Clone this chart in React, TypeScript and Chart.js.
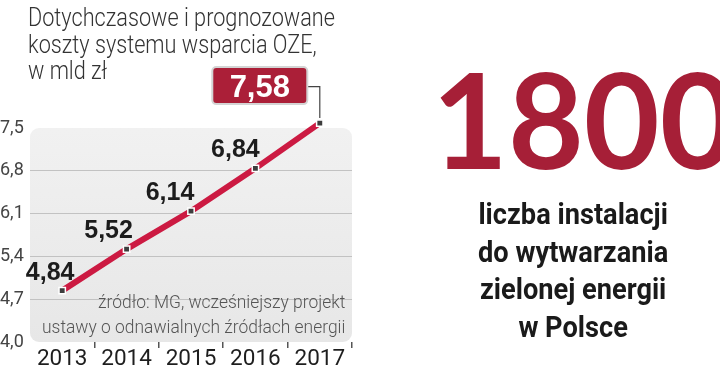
import { useEffect, useLayoutEffect, useRef, useState } from 'react';
import { Chart, registerables } from 'chart.js';

Chart.register(...registerables);

const years = ['2013', '2014', '2015', '2016', '2017'];
const costs = [4.84, 5.52, 6.14, 6.84, 7.58];
const yTicks = [4.0, 4.7, 5.4, 6.1, 6.8, 7.5];

const titleLines = ['Dotychczasowe i prognozowane', 'koszty systemu wsparcia OZE,', 'w mld zł'];
const sourceLines = ['źródło: MG, wcześniejszy projekt', 'ustawy o odnawialnych źródłach energii'];
const bigNumber = '1800';
const bigCaption = ['liczba instalacji', 'do wytwarzania', 'zielonej energii', 'w Polsce'];

const labelDx = [-12, -18, -21, -20];

const fmt = (v: number, d: number) => v.toFixed(d).replace('.', ',');

const bgPlugin = {
  id: 'plotBg',
  beforeDraw(chart: any) {
    const { ctx, chartArea } = chart;
    const { left, top, right, bottom } = chartArea;
    ctx.save();
    const g = ctx.createLinearGradient(0, top, 0, bottom);
    g.addColorStop(0, '#f1f1f1');
    g.addColorStop(1, '#e7e7e7');
    ctx.fillStyle = g;
    ctx.beginPath();
    ctx.roundRect(left, top, right - left, bottom - top, 9);
    ctx.fill();
    ctx.restore();
  },
};

const labelPlugin = {
  id: 'valueLabels',
  afterDatasetsDraw(chart: any) {
    const { ctx } = chart;
    const meta = chart.getDatasetMeta(0);
    const n = costs.length;
    ctx.save();
    ctx.font = 'bold 25px "Liberation Sans", Arial, sans-serif';
    ctx.fillStyle = '#1c1c1c';
    ctx.textAlign = 'center';
    ctx.textBaseline = 'alphabetic';
    for (let i = 0; i < n - 1; i++) {
      const p = meta.data[i];
      ctx.fillText(fmt(costs[i], 2), p.x + labelDx[i], p.y - 11);
    }
    const p = meta.data[n - 1];
    const w = 95;
    const h = 37;
    const cx = p.x - 60;
    const cy = p.y - 37.5;
    const bx = cx - w / 2;
    const by = cy - h / 2;
    ctx.strokeStyle = '#444';
    ctx.lineWidth = 1.2;
    ctx.beginPath();
    ctx.moveTo(bx + w, cy + 1);
    ctx.lineTo(p.x, cy + 1);
    ctx.lineTo(p.x, p.y - 5);
    ctx.stroke();
    ctx.beginPath();
    ctx.roundRect(bx, by, w, h, 4);
    ctx.fillStyle = '#ab1f38';
    ctx.fill();
    ctx.strokeStyle = '#d4d4d4';
    ctx.lineWidth = 2;
    ctx.stroke();
    ctx.fillStyle = '#ffffff';
    ctx.font = 'bold 31px "Liberation Sans", Arial, sans-serif';
    ctx.fillText(fmt(costs[n - 1], 2), cx, cy + 11);
    ctx.restore();
  },
};

function FitBlock(props: { outer: any; target: number; origin: string; align: string; children: any }) {
  const ref = useRef<HTMLDivElement | null>(null);
  const [s, setS] = useState(1);
  useLayoutEffect(() => {
    const measure = () => {
      const el = ref.current;
      if (el && el.offsetWidth) setS(props.target / el.offsetWidth);
    };
    measure();
    const fonts: any = (document as any).fonts;
    if (fonts && fonts.ready) fonts.ready.then(measure);
  }, []);
  return (
    <div style={{ position: 'absolute', textAlign: props.align as any, ...props.outer }}>
      <div
        ref={ref}
        style={{
          display: 'inline-block',
          whiteSpace: 'pre',
          textAlign: props.align as any,
          transform: `scaleX(${s})`,
          transformOrigin: props.origin,
        }}
      >
        {props.children}
      </div>
    </div>
  );
}

function CostChart() {
  const ref = useRef<HTMLCanvasElement | null>(null);
  useEffect(() => {
    if (!ref.current) return;
    const chart = new Chart(ref.current, {
      type: 'line',
      data: {
        labels: years,
        datasets: [
          {
            data: costs,
            borderColor: '#cc1a42',
            borderWidth: 6,
            pointStyle: 'rect',
            pointRadius: 4.5,
            pointBackgroundColor: '#3d3d3d',
            pointBorderColor: '#ffffff',
            pointBorderWidth: 1.5,
            tension: 0,
            clip: false,
          } as any,
        ],
      },
      options: {
        animation: false,
        responsive: false,
        maintainAspectRatio: false,
        devicePixelRatio: 1,
        layout: { padding: { left: 0, top: 128, right: 368, bottom: 0 } },
        plugins: { legend: { display: false }, tooltip: { enabled: false } },
        scales: {
          x: {
            type: 'category',
            offset: true,
            border: { display: false },
            grid: {
              offset: true,
              drawOnChartArea: false,
              drawTicks: true,
              tickLength: 6,
              lineWidth: 1.5,
              color: (c: any) => (c.index === 0 || c.index >= years.length ? 'rgba(0,0,0,0)' : '#555'),
            },
            ticks: {
              font: { family: 'Roboto, sans-serif', size: 22.5 },
              color: '#1e1e1e',
              padding: -2,
              maxRotation: 0,
            },
            afterFit: (s: any) => {
              s.height = 32;
            },
          } as any,
          y: {
            min: 4,
            max: 7.5,
            border: { display: false },
            afterBuildTicks: (s: any) => {
              s.ticks = yTicks.map((v) => ({ value: v }));
            },
            grid: {
              drawTicks: false,
              lineWidth: 1,
              color: (c: any) => (c.index === 0 || c.index === yTicks.length - 1 ? 'rgba(0,0,0,0)' : '#c2c2c2'),
            },
            ticks: {
              callback: (v: any) => fmt(Number(v), 1),
              font: { family: 'Roboto, sans-serif', size: 18 },
              color: '#444',
              crossAlign: 'far',
              padding: 0,
            },
            afterFit: (s: any) => {
              s.width = 30;
            },
          } as any,
        },
      },
      plugins: [bgPlugin, labelPlugin],
    });
    return () => chart.destroy();
  }, []);
  return <canvas ref={ref} width={720} height={374} style={{ position: 'absolute', left: 0, top: 0 }} />;
}

export default function App() {
  return (
    <div
      style={{
        position: 'fixed',
        left: 0,
        top: 0,
        width: 720,
        height: 374,
        overflow: 'hidden',
        background: '#ffffff',
      }}
    >
      <CostChart />
      <FitBlock
        target={307}
        origin="left top"
        align="left"
        outer={{
          left: 28,
          top: 5,
          fontFamily: 'Roboto, sans-serif',
          fontWeight: 300,
          fontSize: 25,
          lineHeight: '26.5px',
          color: '#333',
        }}
      >
        {titleLines.join('\n')}
      </FitBlock>
      <FitBlock
        target={303}
        origin="right top"
        align="right"
        outer={{
          right: 375,
          top: 289.3,
          fontFamily: 'Roboto, sans-serif',
          fontWeight: 300,
          fontSize: 18,
          lineHeight: '25px',
          color: '#555',
        }}
      >
        {sourceLines.join('\n')}
      </FitBlock>
      <FitBlock
        target={304}
        origin="center top"
        align="center"
        outer={{
          left: 430,
          width: 300,
          top: 52.4,
          fontFamily: 'Lato, sans-serif',
          fontWeight: 700,
          fontSize: 132.6,
          lineHeight: '132.6px',
          color: '#a61f37',
        }}
      >
        {bigNumber}
      </FitBlock>
      <FitBlock
        target={190}
        origin="center top"
        align="center"
        outer={{
          left: 430,
          width: 286,
          top: 196.2,
          fontFamily: 'Roboto, sans-serif',
          fontWeight: 700,
          fontSize: 29.5,
          lineHeight: '37.5px',
          color: '#1a1a1a',
        }}
      >
        {bigCaption.join('\n')}
      </FitBlock>
    </div>
  );
}
